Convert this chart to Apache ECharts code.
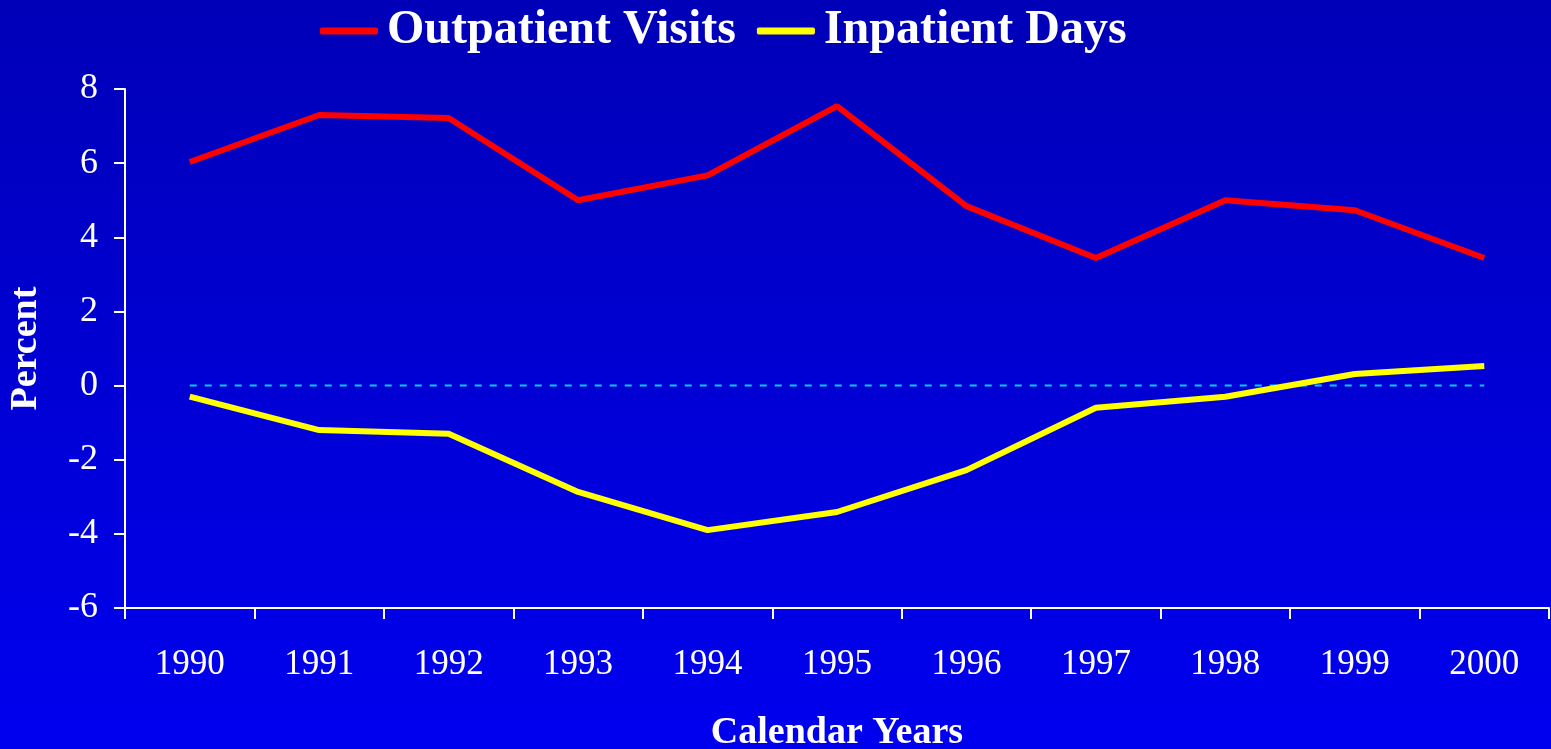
<!DOCTYPE html>
<html><head><meta charset="utf-8">
<script src="https://cdn.jsdelivr.net/npm/echarts@6/dist/echarts.min.js"></script>
<style>html,body{margin:0;padding:0;}#c{width:1551px;height:749px;}</style>
</head><body><div id="c"></div>
<script>
const years = ['1990','1991','1992','1993','1994','1995','1996','1997','1998','1999','2000'];
const outpatientVisits = [6.03, 7.30, 7.22, 5.00, 5.67, 7.54, 4.84, 3.44, 5.00, 4.73, 3.44];
const inpatientDays = [-0.30, -1.20, -1.30, -2.87, -3.90, -3.41, -2.28, -0.60, -0.30, 0.31, 0.53];
const zeroLine = [0, 0, 0, 0, 0, 0, 0, 0, 0, 0, 0];
const yTicks = {min: -6, max: 8, interval: 2};

const font = '"Liberation Serif", "Times New Roman", serif';
const chart = echarts.init(document.getElementById('c'));
chart.setOption({
  animation: false,
  backgroundColor: new echarts.graphic.LinearGradient(0, 0, 0, 1, [
    {offset: 0, color: '#0000b8'}, {offset: 1, color: '#0000f0'}]),
  textStyle: {fontFamily: font},
  legend: {
    data: ['Outpatient Visits', 'Inpatient Days'],
    top: 2, left: 315,
    icon: 'roundRect', itemWidth: 58, itemHeight: 7, itemGap: 21,
    textStyle: {color: '#fff', fontSize: 48, fontWeight: 'bold', fontFamily: font, padding: [0, 0, 0, 4]}
  },
  grid: {left: 125, right: 2, top: 89, bottom: 141, containLabel: false, outerBoundsMode: 'none'},
  xAxis: {
    type: 'category', data: years, boundaryGap: true,
    name: 'Calendar Years', nameLocation: 'middle', nameGap: 106,
    nameTextStyle: {color: '#fff', fontSize: 38, fontWeight: 'bold', fontFamily: font},
    axisLine: {onZero: false, lineStyle: {color: '#fff', width: 2}},
    axisTick: {show: true, length: 11, lineStyle: {color: '#fff', width: 2}},
    axisLabel: {color: '#fff', fontSize: 35, margin: 39, fontFamily: font},
    splitLine: {show: false}
  },
  yAxis: {
    type: 'value', min: yTicks.min, max: yTicks.max, interval: yTicks.interval,
    name: 'Percent', nameLocation: 'middle', nameGap: 80, nameRotate: 90,
    nameTextStyle: {color: '#fff', fontSize: 38, fontWeight: 'bold', fontFamily: font},
    axisLine: {show: true, lineStyle: {color: '#fff', width: 2}},
    axisTick: {show: true, length: 11, lineStyle: {color: '#fff', width: 2}},
    axisLabel: {color: '#fff', fontSize: 36, margin: 27, fontFamily: font},
    splitLine: {show: false}
  },
  series: [
    {name: 'zero', type: 'line', data: zeroLine, symbol: 'none', silent: true, z: 1,
     lineStyle: {color: '#00ccff', width: 2, type: [7, 8]}},
    {name: 'Outpatient Visits', type: 'line', data: outpatientVisits, symbol: 'none', z: 3,
     lineStyle: {color: '#ff0000', width: 6}, itemStyle: {color: '#ff0000'}},
    {name: 'Inpatient Days', type: 'line', data: inpatientDays, symbol: 'none', z: 3,
     lineStyle: {color: '#ffff00', width: 6}, itemStyle: {color: '#ffff00'}}
  ]
});
</script></body></html>
